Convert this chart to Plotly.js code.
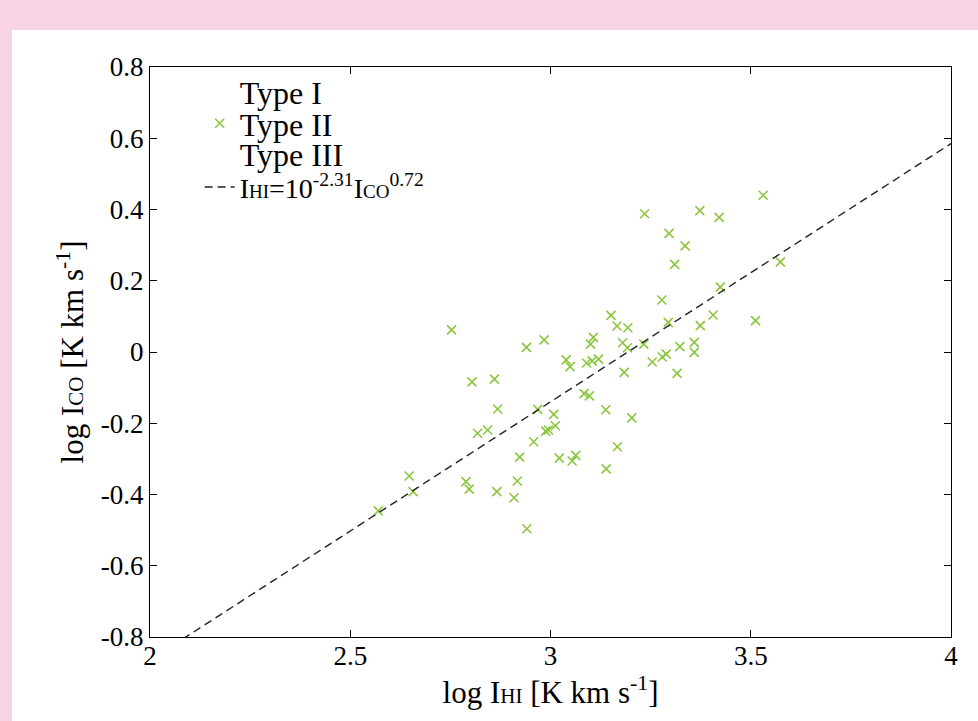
<!DOCTYPE html>
<html>
<head>
<meta charset="utf-8">
<script src="https://cdn.plot.ly/plotly-3.0.1.min.js"></script>
<style>
  html, body { margin: 0; padding: 0; background: #f9d4e6; width: 978px; height: 721px; overflow: hidden; }
  #plot { position: absolute; left: 12px; top: 30px; width: 966px; height: 691px; background: #ffffff; }
</style>
</head>
<body>
<div id="plot"></div>
<script>
// Type II sources: log I_HI (x) and log I_CO (y)
const typeIIx = [2.570, 2.647, 2.657, 2.753, 2.789, 2.797, 2.804, 2.818, 2.843, 2.860,
  2.868, 2.866, 2.909, 2.917, 2.923, 2.941, 2.940, 2.984, 2.958, 2.968,
  3.008, 2.988, 2.995, 3.012, 3.022, 3.054, 3.063, 3.139, 3.167, 3.138,
  3.203, 3.084, 3.097, 3.039, 3.049, 3.090, 3.104, 3.120, 3.100, 3.107,
  3.151, 3.166, 3.193, 3.180, 3.192, 3.184, 3.233, 3.254, 3.278, 3.235,
  3.373, 3.421, 3.296, 3.336, 3.310, 3.574, 3.424, 3.406, 3.512, 3.294,
  3.374, 3.323, 3.359, 3.359, 3.279, 3.289, 3.316, 3.531];
const typeIIy = [-0.446, -0.348, -0.392, 0.062, -0.364, -0.385, -0.084, -0.228, -0.219, -0.076,
  -0.160, -0.392, -0.409, -0.362, -0.295, -0.496, 0.013, 0.034, -0.252, -0.161,
  -0.175, -0.222, -0.219, -0.207, -0.298, -0.306, -0.290, -0.328, -0.266, -0.162,
  -0.185, -0.117, -0.123, -0.022, -0.041, -0.031, -0.025, -0.020, 0.022, 0.041,
  0.103, 0.073, 0.068, 0.026, 0.012, -0.057, 0.022, -0.028, 0.146, 0.388,
  0.397, 0.378, 0.333, 0.298, 0.246, 0.253, 0.182, 0.104, 0.088, 0.083,
  0.074, 0.015, 0.027, -0.001, -0.014, -0.006, -0.060, 0.440];
// Type I and Type III: no visible points (missing values)
const typeIx = [null];
const typeIy = [null];
const typeIIIx = [null];
const typeIIIy = [null];
// Fit line as drawn: log I_CO = slope * log I_HI + intercept
const fitX = [2.0, 4.0];
const fitSlope = [0.725];
const fitIntercept = [-2.315];
// Tick labels
const xTickVals = [2, 2.5, 3, 3.5, 4];
const xTickText = ["2", "2.5", "3", "3.5", "4"];
const yTickVals = [0.8, 0.6, 0.4, 0.2, 0, -0.2, -0.4, -0.6, -0.8];
const yTickText = ["0.8", "0.6", "0.4", "0.2", "0", "-0.2", "-0.4", "-0.6", "-0.8"];

const fitY = fitX.map(v => fitSlope[0] * v + fitIntercept[0]);
const serif = "Liberation Serif, Times New Roman, serif";
const sm = (t, s) => '<span style="font-size:' + s + 'px">' + t + '</span>';

const traces = [
  { x: typeIx, y: typeIy, type: 'scatter', mode: 'markers', name: 'Type I', legend: 'legend',
    marker: { symbol: 'circle', size: 8, color: 'rgba(0,0,0,0)' } },
  { x: typeIIx, y: typeIIy, type: 'scatter', mode: 'markers', name: 'Type II', legend: 'legend2',
    marker: { symbol: 'x-thin-open', size: 9, color: '#8cc63f', line: { color: '#8cc63f', width: 1.6 } } },
  { x: typeIIIx, y: typeIIIy, type: 'scatter', mode: 'markers', name: 'Type III', legend: 'legend3',
    marker: { symbol: 'circle', size: 8, color: 'rgba(0,0,0,0)' } },
  { x: fitX, y: fitY, type: 'scatter', mode: 'lines', legend: 'legend4',
    name: 'I' + sm('HI', 19) + '=10<sup>-2.31</sup>I' + sm('CO', 19) + '<sup>0.72</sup>',
    line: { color: '#222222', width: 1.4, dash: '8px,5px' } }
];

function leg(yc, fs) {
  return {
    x: 0.062, y: yc, xanchor: 'left', yanchor: 'middle',
    bgcolor: 'rgba(0,0,0,0)', borderwidth: 0,
    font: { family: serif, size: fs, color: '#000000' },
    itemwidth: 30
  };
}

const layout = {
  width: 966, height: 691,
  paper_bgcolor: '#ffffff', plot_bgcolor: '#ffffff',
  margin: { l: 138, r: 27, t: 37, b: 84 },
  font: { family: serif, size: 27, color: '#000000' },
  showlegend: true,
  legend: leg(0.956, 32),
  legend2: leg(0.901, 32),
  legend3: leg(0.847, 32),
  legend4: leg(0.789, 28),
  xaxis: {
    range: [2, 4], tickvals: xTickVals, ticktext: xTickText,
    ticks: 'inside', ticklen: 7, tickcolor: '#000', tickwidth: 1,
    showline: true, linecolor: '#000', linewidth: 1, mirror: 'ticks',
    showgrid: false, zeroline: false, ticklabelstandoff: -5,
    tickfont: { family: serif, size: 27 },
    title: { text: 'log I' + sm('HI', 21) + ' [K km s<sup>-1</sup>]', font: { family: serif, size: 31 }, standoff: 8 }
  },
  yaxis: {
    range: [-0.8, 0.8], tickvals: yTickVals, ticktext: yTickText,
    ticks: 'inside', ticklen: 7, tickcolor: '#000', tickwidth: 1,
    showline: true, linecolor: '#000', linewidth: 1, mirror: 'ticks',
    showgrid: false, zeroline: false,
    tickfont: { family: serif, size: 27 },
    title: { text: 'log I' + sm('CO', 21) + ' [K km s<sup>-1</sup>]', font: { family: serif, size: 31 }, standoff: 7 }
  }
};

Plotly.newPlot('plot', traces, layout, { displayModeBar: false, staticPlot: true });
</script>
</body>
</html>
